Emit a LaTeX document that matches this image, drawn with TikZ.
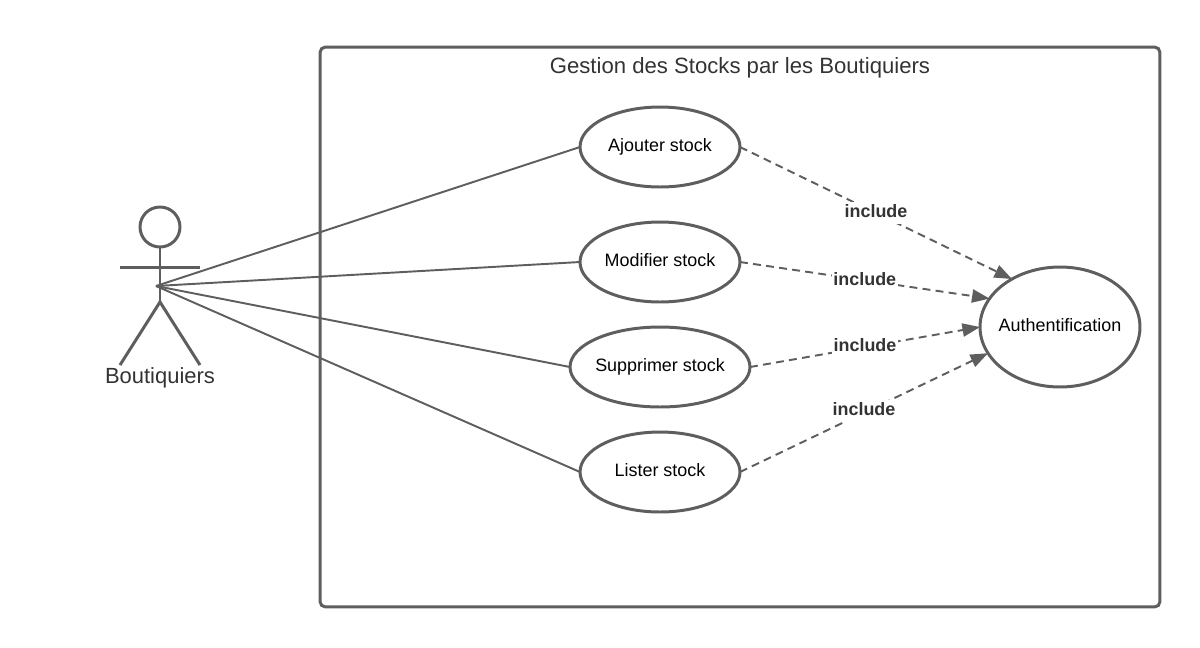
\documentclass[tikz,border=0pt]{standalone}
\usepackage{fontspec}
\setmainfont{Liberation Sans}
\usetikzlibrary{arrows.meta,shapes.geometric}
\definecolor{umlgray}{HTML}{5E5E5E}
\definecolor{umltext}{HTML}{333333}
\tikzset{
  usecase/.style={draw=umlgray,line width=1.7pt,ellipse,inner xsep=-1cm,inner ysep=0pt,outer sep=0pt,text height=7.5pt,text depth=2pt,font=\fontsize{10.2}{12}\selectfont},
  actorline/.style={draw=umlgray,line width=1.7pt},
  assoc/.style={draw=umlgray,line width=1.1pt},
  incl/.style={draw=umlgray,line width=1.1pt,dash pattern=on 4.5pt off 3pt,-{Triangle[length=10pt,width=7.5pt,fill=umlgray]}},
  incllabel/.style={fill=white,text=umltext,inner xsep=1pt,inner ysep=0pt,text height=9pt,text depth=3.5pt,font=\fontsize{10.2}{12}\bfseries\selectfont}
}
\begin{document}
\begin{tikzpicture}[x=0.02cm,y=-0.02cm]
  \useasboundingbox (0,0) rectangle (1200,647);

  % System box
  \node[draw=umlgray,line width=1.7pt,rounded corners=3pt,minimum width=16.8cm,minimum height=11.2cm,inner sep=0pt,outer sep=0pt] (system) at (740,327) {};
  \node[text=umltext,font=\fontsize{12.6}{15}\selectfont] (title) at (740,68) {Gestion des Stocks par les Boutiquiers};

  % Actor
  \node[draw=umlgray,line width=1.7pt,circle,minimum size=0.8cm,inner sep=0pt,outer sep=0pt] (head) at (160,227) {};
  \coordinate (hip) at (160,302);
  \coordinate (lefthand) at (120,267);
  \coordinate (righthand) at (200,267);
  \coordinate (leftfoot) at (120,365);
  \coordinate (rightfoot) at (200,365);
  \coordinate (hub) at (156,286);
  \draw[actorline] (head.south) -- (hip);
  \draw[actorline] (lefthand) -- (righthand);
  \draw[actorline] (leftfoot) -- (hip) -- (rightfoot);
  \node[text=umltext,font=\fontsize{12.5}{15}\selectfont] (actor) at (160,378) {Boutiquiers};

  % Use cases
  \node[usecase,minimum width=3.2cm,minimum height=1.6cm] (ajouter) at (660,147) {Ajouter stock};
  \node[usecase,minimum width=3.2cm,minimum height=1.6cm] (modifier) at (660,262) {Modifier stock};
  \node[usecase,minimum width=3.6cm,minimum height=1.6cm] (supprimer) at (660,367) {Supprimer stock};
  \node[usecase,minimum width=3.2cm,minimum height=1.6cm] (lister) at (660,472) {Lister stock};
  \node[usecase,minimum width=3.2cm,minimum height=2.4cm] (auth) at (1060,327) {Authentification};

  % Associations
  \draw[assoc] (hub) -- (ajouter.west);
  \draw[assoc] (hub) -- (modifier.west);
  \draw[assoc] (hub) -- (supprimer.west);
  \draw[assoc] (hub) -- (lister.west);

  % Includes
  \draw[incl] (ajouter.east) -- (auth.135) node[midway,incllabel] (l1) {include};
  \draw[incl] (modifier.east) -- (auth.158) node[midway,incllabel] (l2) {include};
  \draw[incl] (supprimer.east) -- (auth.180) node[midway,incllabel] (l3) {include};
  \draw[incl] (lister.east) -- (auth.200) node[midway,yshift=1pt,incllabel] (l4) {include};
\end{tikzpicture}
\end{document}
